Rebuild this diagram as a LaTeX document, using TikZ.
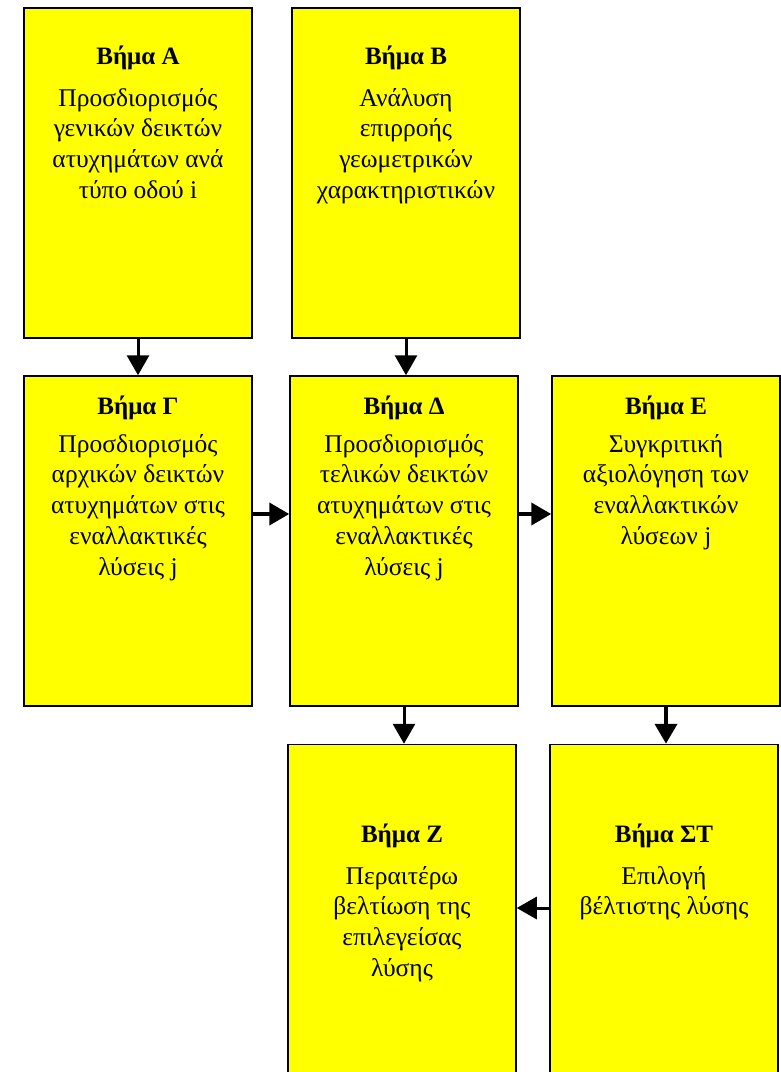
\documentclass[tikz,border=0pt]{standalone}
\usepackage{fontspec}
\setmainfont{Liberation Serif}
\usetikzlibrary{arrows.meta}
\definecolor{boxyellow}{HTML}{FFFF00}
\begin{document}
\begin{tikzpicture}[x=1pt,y=-1pt,
 box/.style={draw=black, line width=1.5pt, fill=boxyellow, inner sep=0, minimum width=228pt},
 ttl/.style={font=\fontsize{25}{28}\selectfont\bfseries, inner sep=0},
 bdy/.style={font=\fontsize{25.5}{30.8}\selectfont, align=center, inner sep=0, anchor=north},
 arr/.style={line width=3pt, -{Triangle[width=22pt,length=20pt]}},
 harr/.style={line width=4pt, -{Triangle[width=22pt,length=20pt]}}
]
\useasboundingbox (0,0) rectangle (780,1072);
% boxes
\node[box, minimum height=330pt] (A) at (138,173) {};
\node[box, minimum height=330pt] (B) at (406,173) {};
\node[box, minimum height=330pt] (G) at (138,541) {};
\node[box, minimum height=330pt] (D) at (404,541) {};
\node[box, minimum height=330pt] (E) at (666,541) {};
\node[box, minimum height=345pt] (Z) at (402,917) {};
\node[box, minimum height=345pt] (S) at (664,917) {};
% titles
\node[ttl] (tA) at (138,58) {Βήμα Α};
\node[ttl] (tB) at (406,58) {Βήμα Β};
\node[ttl] (tG) at (138,408) {Βήμα Γ};
\node[ttl] (tD) at (404,408) {Βήμα Δ};
\node[ttl] (tE) at (666,408) {Βήμα Ε};
\node[ttl] (tZ) at (402,836) {Βήμα Ζ};
\node[ttl] (tS) at (664,836) {Βήμα ΣΤ};
% bodies
\node[bdy] (bA) at (138,88) {Προσδιορισμός\\γενικών δεικτών\\ατυχημάτων ανά\\τύπο οδού i};
\node[bdy] (bB) at (406,88) {Ανάλυση\\επιρροής\\γεωμετρικών\\χαρακτηριστικών};
\node[bdy] (bG) at (138,434) {Προσδιορισμός\\αρχικών δεικτών\\ατυχημάτων στις\\εναλλακτικές\\λύσεις j};
\node[bdy] (bD) at (404,434) {Προσδιορισμός\\τελικών δεικτών\\ατυχημάτων στις\\εναλλακτικές\\λύσεις j};
\node[bdy] (bE) at (666,434) {Συγκριτική\\αξιολόγηση των\\εναλλακτικών\\λύσεων j};
\node[bdy] (bZ) at (402,866) {Περαιτέρω\\βελτίωση της\\επιλεγείσας\\λύσης};
\node[bdy] (bS) at (664,866) {Επιλογή\\βέλτιστης λύσης};
% connectors
\coordinate (hy) at (0,514);
\coordinate (sy) at (0,908);
\draw[arr] (A.south) -- (A.south |- G.north);
\draw[arr] (B.south) -- (B.south |- D.north);
\draw[harr] (G.east |- hy) -- (D.west |- hy);
\draw[harr] (D.east |- hy) -- (E.west |- hy);
\draw[arr] (D.south) -- (D.south |- Z.north);
\draw[harr] (E.south) -- (E.south |- S.north);
\draw[arr] (S.west |- sy) -- (Z.east |- sy);
\end{tikzpicture}
\end{document}
